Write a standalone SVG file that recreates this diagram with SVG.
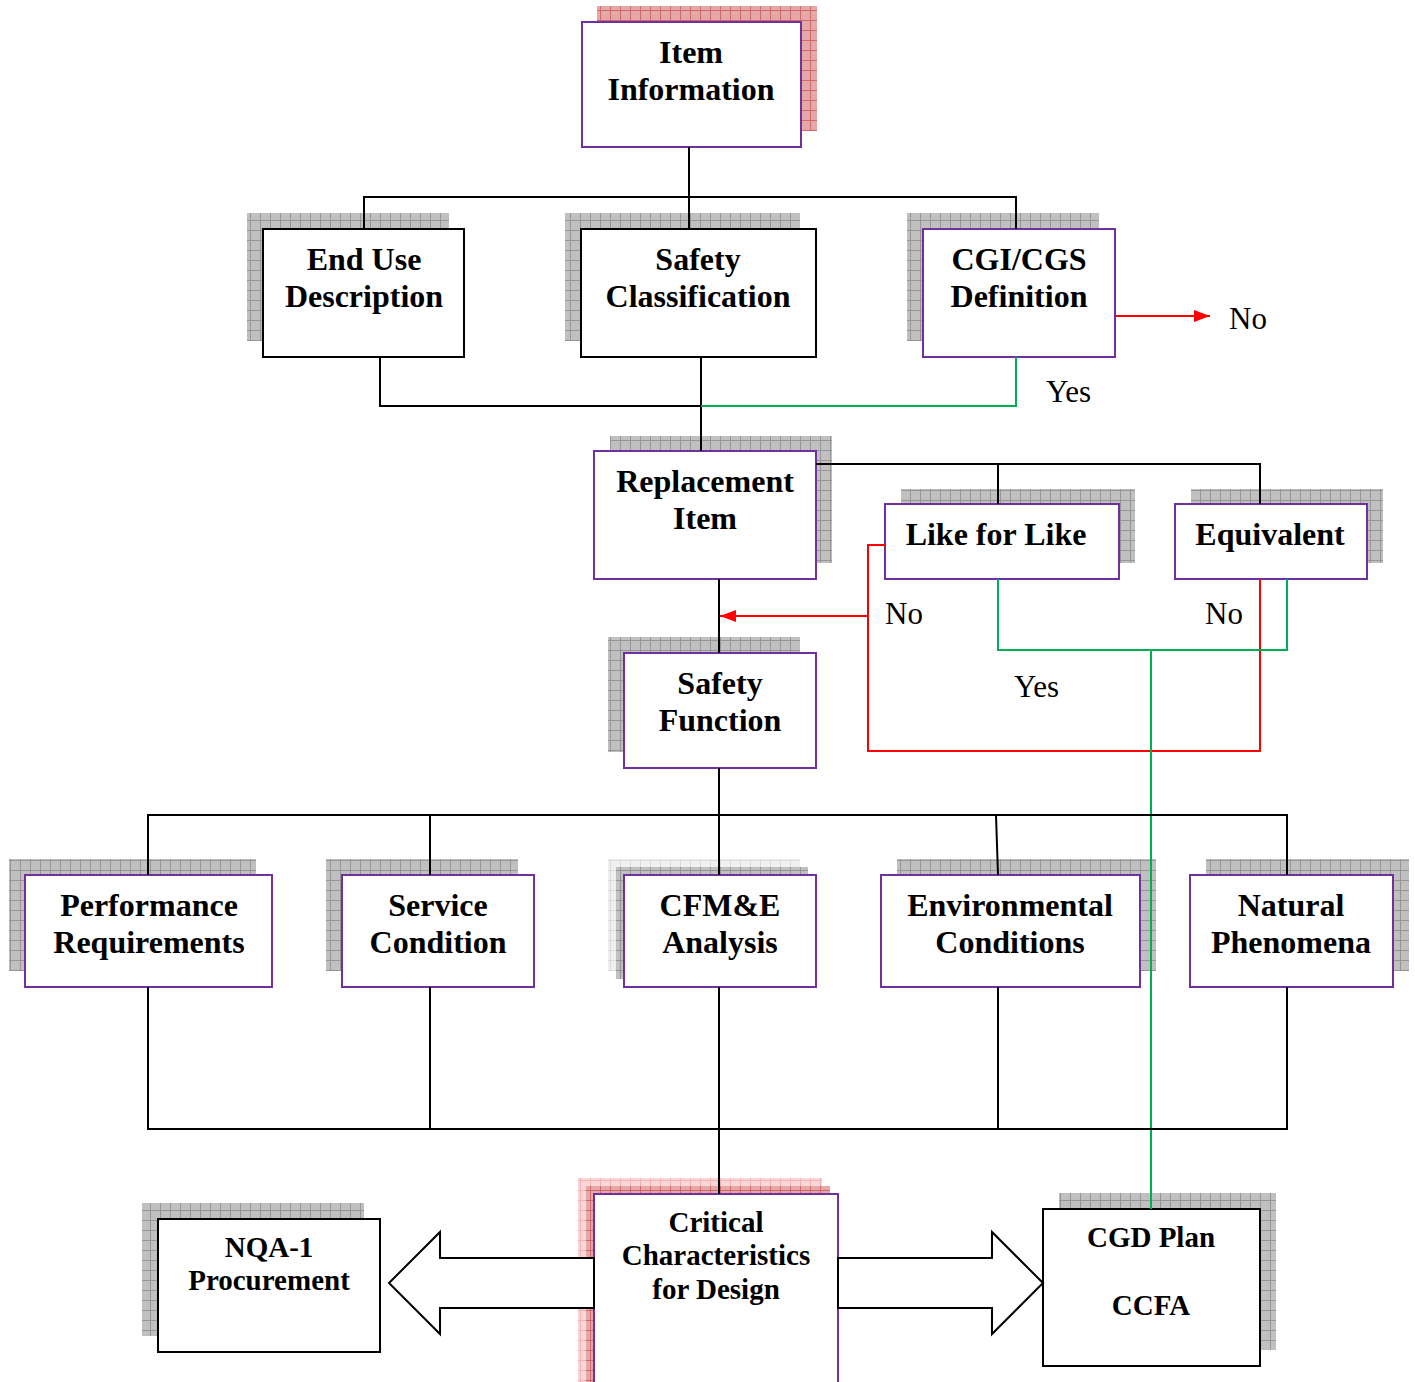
<svg xmlns="http://www.w3.org/2000/svg" width="1415" height="1382" viewBox="0 0 1415 1382">
<defs>
<pattern id="pg" width="10" height="10" patternUnits="userSpaceOnUse">
<rect width="10" height="10" fill="#c0c0c0"/>
<path d="M0 0.5H10M0.5 0V10" stroke="#969696" stroke-width="1"/>
</pattern>
<pattern id="pgl" width="10" height="10" patternUnits="userSpaceOnUse">
<rect width="10" height="10" fill="#f0f0f0"/>
<path d="M0 0.5H10M0.5 0V10" stroke="#dcdcdc" stroke-width="1"/>
</pattern>
<pattern id="pp" width="10" height="10" patternUnits="userSpaceOnUse">
<rect width="10" height="10" fill="#e4a8a8"/>
<path d="M0 0.5H10M0.5 0V10" stroke="#d06a6a" stroke-width="1"/>
</pattern>
<pattern id="ppl" width="10" height="10" patternUnits="userSpaceOnUse">
<rect width="10" height="10" fill="#fbd6d6"/>
<path d="M0 0.5H10M0.5 0V10" stroke="#f0b4b4" stroke-width="1"/>
</pattern>
<marker id="ar" viewBox="0 0 16 12" refX="16" refY="6" markerWidth="16" markerHeight="12" markerUnits="userSpaceOnUse" orient="auto">
<path d="M0 0L16 6L0 12Z" fill="#ff0000"/>
</marker>
<style>
.b{fill:#fff;stroke:#000;stroke-width:2}
.p{fill:#fff;stroke:#7030a0;stroke-width:2}
.t{font-family:"Liberation Serif","Times New Roman",serif;font-weight:bold;font-size:32px;text-anchor:middle;fill:#000}
.s{font-family:"Liberation Serif","Times New Roman",serif;font-weight:bold;font-size:29px;text-anchor:middle;fill:#000}
.n{font-family:"Liberation Serif","Times New Roman",serif;font-size:31px;fill:#000}
.k{fill:none;stroke:#000;stroke-width:2}
.r{fill:none;stroke:#ff0000;stroke-width:2}
.g{fill:none;stroke:#00b050;stroke-width:2}
.sg{fill:url(#pg)}
</style>
</defs>
<rect width="1415" height="1382" fill="#fff"/>

<g id="item-information">
<rect x="597" y="6" width="220" height="125" fill="url(#pp)"/>
<rect x="582" y="22" width="219" height="125" class="p"/>
<text class="t" x="691" y="63">Item</text>
<text class="t" x="691" y="100">Information</text>
</g>
<g id="end-use-description">
<rect x="247" y="213" width="202" height="128" class="sg"/>
<rect x="263" y="229" width="201" height="128" class="b"/>
<text class="t" x="364" y="270">End Use</text>
<text class="t" x="364" y="307">Description</text>
</g>
<g id="safety-classification">
<rect x="565" y="213" width="235" height="128" class="sg"/>
<rect x="581" y="229" width="235" height="128" class="b"/>
<text class="t" x="698" y="270">Safety</text>
<text class="t" x="698" y="307">Classification</text>
</g>
<g id="cgi-cgs-definition">
<rect x="907" y="213" width="192" height="128" class="sg"/>
<rect x="923" y="229" width="192" height="128" class="p"/>
<text class="t" x="1019" y="270">CGI/CGS</text>
<text class="t" x="1019" y="307">Definition</text>
</g>
<g id="replacement-item">
<rect x="610" y="436" width="222" height="127" class="sg"/>
<rect x="594" y="451" width="222" height="128" class="p"/>
<text class="t" x="705" y="492">Replacement</text>
<text class="t" x="705" y="529">Item</text>
</g>
<g id="like-for-like">
<rect x="901" y="489" width="234" height="74" class="sg"/>
<rect x="885" y="504" width="234" height="75" class="p"/>
<text class="t" x="996" y="545">Like for Like</text>
</g>
<g id="equivalent">
<rect x="1191" y="489" width="192" height="74" class="sg"/>
<rect x="1175" y="504" width="192" height="75" class="p"/>
<text class="t" x="1270" y="545">Equivalent</text>
</g>
<g id="safety-function">
<rect x="608" y="637" width="192" height="115" class="sg"/>
<rect x="624" y="653" width="192" height="115" class="p"/>
<text class="t" x="720" y="694">Safety</text>
<text class="t" x="720" y="731">Function</text>
</g>
<g id="performance-requirements">
<rect x="9" y="859" width="247" height="112" class="sg"/>
<rect x="25" y="875" width="247" height="112" class="p"/>
<text class="t" x="149" y="916">Performance</text>
<text class="t" x="149" y="953">Requirements</text>
</g>
<g id="service-condition">
<rect x="326" y="859" width="192" height="112" class="sg"/>
<rect x="342" y="875" width="192" height="112" class="p"/>
<text class="t" x="438" y="916">Service</text>
<text class="t" x="438" y="953">Condition</text>
</g>
<g id="cfme-analysis">
<rect x="608" y="859" width="192" height="112" fill="url(#pgl)"/>
<rect x="616" y="867" width="192" height="112" class="sg"/>
<rect x="624" y="875" width="192" height="112" class="p"/>
<text class="t" x="720" y="916">CFM&amp;E</text>
<text class="t" x="720" y="953">Analysis</text>
</g>
<g id="environmental-conditions">
<rect x="897" y="859" width="259" height="112" class="sg"/>
<rect x="881" y="875" width="259" height="112" class="p"/>
<text class="t" x="1010" y="916">Environmental</text>
<text class="t" x="1010" y="953">Conditions</text>
</g>
<g id="natural-phenomena">
<rect x="1206" y="859" width="203" height="112" class="sg"/>
<rect x="1190" y="875" width="203" height="112" class="p"/>
<text class="t" x="1291" y="916">Natural</text>
<text class="t" x="1291" y="953">Phenomena</text>
</g>
<g id="critical-characteristics">
<rect x="578" y="1178" width="244" height="204" fill="url(#ppl)"/>
<rect x="586" y="1186" width="244" height="196" fill="url(#pp)"/>
<rect x="594" y="1194" width="244" height="200" class="p"/>
<text class="s" x="716" y="1232">Critical</text>
<text class="s" x="716" y="1265">Characteristics</text>
<text class="s" x="716" y="1299">for Design</text>
</g>
<g id="nqa1-procurement">
<rect x="142" y="1203" width="222" height="133" class="sg"/>
<rect x="158" y="1219" width="222" height="133" class="b"/>
<text class="s" x="269" y="1257">NQA-1</text>
<text class="s" x="269" y="1290">Procurement</text>
</g>
<g id="cgd-plan">
<rect x="1059" y="1193" width="217" height="157" class="sg"/>
<rect x="1043" y="1209" width="217" height="157" class="b"/>
<text class="s" x="1151" y="1247">CGD Plan</text>
<text class="s" x="1151" y="1315">CCFA</text>
</g>

<g id="connectors">
<path class="k" d="M689 147V197M364 229V197H1016V229M689 197V229"/>
<path class="k" d="M380 357V406H701M701 357V451"/>
<path class="g" d="M1016 357V406H701"/>
<path class="r" d="M1115 316H1210" marker-end="url(#ar)"/>
<path class="k" d="M816 464H1260V504M998 464V504"/>
<path class="k" d="M719 579V653"/>
<path class="r" d="M885 545H868V751H1260V579"/>
<path class="r" d="M868 616H720" marker-end="url(#ar)"/>
<path class="g" d="M998 579V650H1287V579M1151 650V1209"/>
<path class="k" d="M719 768V875M148 875V815H1287V875M430 815V875M996 815L998 875"/>
<path class="k" d="M148 987V1129H1287V987M430 987V1129M998 987V1129M719 987V1194"/>
<polygon class="b" points="594,1258 440,1258 440,1232 389,1283 440,1334 440,1308 594,1308"/>
<polygon class="b" points="838,1258 992,1258 992,1232 1043,1283 992,1334 992,1308 838,1308"/>
</g>

<g id="labels">
<text class="n" x="1229" y="329">No</text>
<text class="n" x="1046" y="402">Yes</text>
<text class="n" x="885" y="624">No</text>
<text class="n" x="1205" y="624">No</text>
<text class="n" x="1014" y="697">Yes</text>
</g>
</svg>
